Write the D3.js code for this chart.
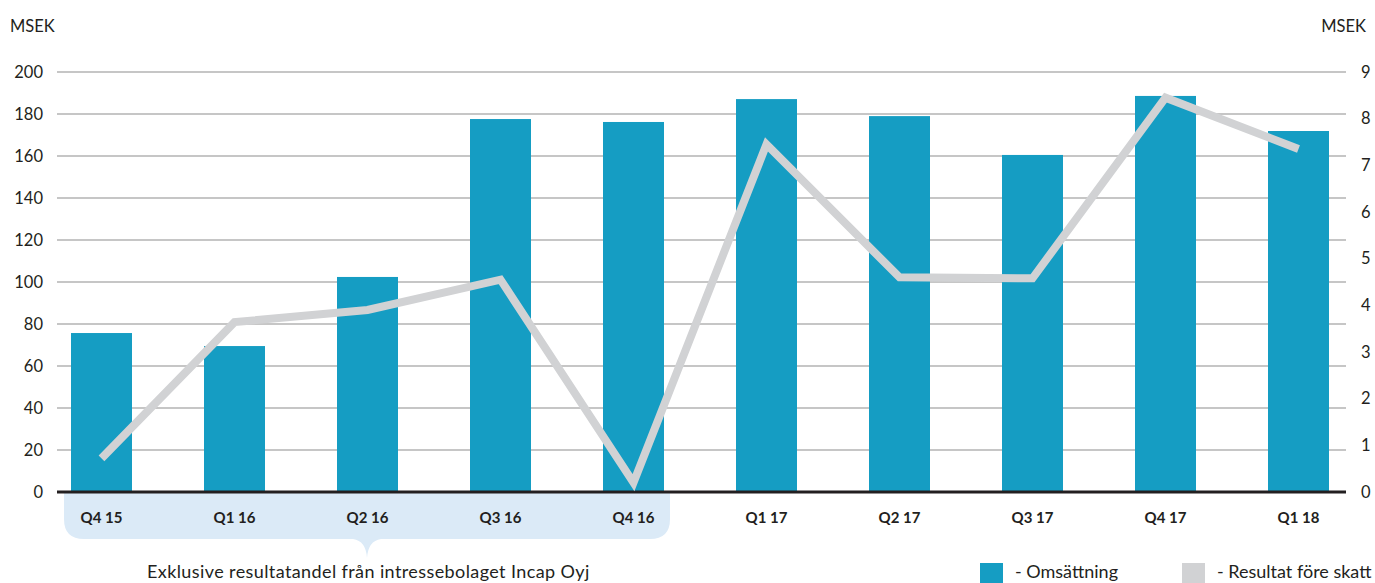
<!DOCTYPE html>
<html>
<head>
<meta charset="utf-8">
<script src="https://cdn.jsdelivr.net/npm/d3@7"></script>
<style>
  body { margin: 0; background: #fff; }
  svg { display: block; font-family: "Lato", "Noto Sans", sans-serif; }
</style>
</head>
<body>
<svg id="chart"></svg>
<script>
'use strict';

const quarters = ['Q4 15', 'Q1 16', 'Q2 16', 'Q3 16', 'Q4 16', 'Q1 17', 'Q2 17', 'Q3 17', 'Q4 17', 'Q1 18'];
const omsattning = [75.7, 69.5, 102.4, 177.6, 176.2, 187.1, 179, 160.5, 188.6, 171.9];
const resultat = [0.72, 3.64, 3.9, 4.55, 0.2, 7.45, 4.6, 4.58, 8.45, 7.35];
const leftTicks = [0, 20, 40, 60, 80, 100, 120, 140, 160, 180, 200];
const rightTicks = [0, 1, 2, 3, 4, 5, 6, 7, 8, 9];
const bracketQuarters = ['Q4 15', 'Q4 16'];  // bolag med resultatandel

const width = 1375;
const height = 583;
const gridLeft = 57, gridRight = 1346;
const yTop = 72, yBottom = 492;

const svg = d3.select('#chart')
  .attr('width', width)
  .attr('height', height);

const x = d3.scaleBand()
  .domain(quarters)
  .range([35, 1365])
  .paddingInner(1 - 61 / 133)
  .paddingOuter((1 - 61 / 133) / 2);

const yLeft = d3.scaleLinear().domain([0, 200]).range([yBottom, yTop]);
const yRight = d3.scaleLinear().domain([0, 9]).range([yBottom, yTop]);

const blue = '#159dc3';
const grey = '#d1d2d4';

// annotation bubble under the first quarters
const bx0 = x(bracketQuarters[0]) - 7;
const bx1 = x(bracketQuarters[1]) + x.bandwidth() + 6;
const btop = yBottom + 1, bbot = 539, r = 20;
const tipX = (bx0 + bx1) / 2;
const bubble = d3.path();
bubble.moveTo(bx0, btop);
bubble.lineTo(bx1, btop);
bubble.lineTo(bx1, bbot - r);
bubble.quadraticCurveTo(bx1, bbot, bx1 - r, bbot);
bubble.lineTo(tipX + 14, bbot);
bubble.quadraticCurveTo(tipX + 1, bbot + 2, tipX, bbot + 19);
bubble.quadraticCurveTo(tipX - 1, bbot + 2, tipX - 14, bbot);
bubble.lineTo(bx0 + r, bbot);
bubble.quadraticCurveTo(bx0, bbot, bx0, bbot - r);
bubble.closePath();
svg.append('path')
  .attr('d', bubble.toString())
  .attr('fill', '#dbeaf7');

// gridlines
svg.append('g')
  .selectAll('line')
  .data(leftTicks.filter(d => d > 0))
  .enter()
  .append('line')
  .attr('x1', gridLeft)
  .attr('x2', gridRight)
  .attr('y1', d => yLeft(d))
  .attr('y2', d => yLeft(d))
  .attr('stroke', '#b3b3b3')
  .attr('stroke-width', 1.5);

// left axis
const leftAxis = svg.append('g')
  .attr('transform', `translate(${gridLeft - 14},0)`)
  .call(d3.axisLeft(yLeft).tickValues(leftTicks).tickSize(0).tickPadding(0));
leftAxis.select('.domain').remove();
leftAxis.selectAll('text')
  .attr('font-size', 16.5)
  .attr('font-family', '"Lato", "Noto Sans", sans-serif')
  .attr('fill', '#231f20');

// right axis
const rightAxis = svg.append('g')
  .attr('transform', `translate(${gridRight + 15},0)`)
  .call(d3.axisRight(yRight).tickValues(rightTicks).tickSize(0).tickPadding(0));
rightAxis.select('.domain').remove();
rightAxis.selectAll('text')
  .attr('font-size', 16.5)
  .attr('font-family', '"Lato", "Noto Sans", sans-serif')
  .attr('fill', '#231f20');

svg.append('text')
  .attr('x', 10).attr('y', 32)
  .attr('font-size', 16.5).attr('fill', '#231f20')
  .text('MSEK');
svg.append('text')
  .attr('x', 1366).attr('y', 32)
  .attr('text-anchor', 'end')
  .attr('font-size', 16.5).attr('fill', '#231f20')
  .text('MSEK');

// bars
svg.append('g')
  .selectAll('rect')
  .data(omsattning)
  .enter()
  .append('rect')
  .attr('x', (d, i) => x(quarters[i]))
  .attr('y', d => yLeft(d))
  .attr('width', x.bandwidth())
  .attr('height', d => yBottom - yLeft(d))
  .attr('fill', blue);

// baseline
svg.append('line')
  .attr('x1', gridLeft).attr('x2', gridRight)
  .attr('y1', yBottom).attr('y2', yBottom)
  .attr('stroke', '#231f20')
  .attr('stroke-width', 3);

// line series
const line = d3.line()
  .x((d, i) => x(quarters[i]) + x.bandwidth() / 2)
  .y(d => yRight(d));
svg.append('path')
  .datum(resultat)
  .attr('d', line)
  .attr('fill', 'none')
  .attr('stroke', grey)
  .attr('stroke-width', 8)
  .attr('stroke-linejoin', 'miter')
  .attr('stroke-linecap', 'butt');

// category labels
svg.append('g')
  .selectAll('text')
  .data(quarters)
  .enter()
  .append('text')
  .attr('x', d => x(d) + x.bandwidth() / 2)
  .attr('y', 523)
  .attr('text-anchor', 'middle')
  .attr('font-size', 15)
  .attr('font-weight', 'bold')
  .attr('fill', '#231f20')
  .text(d => d);

svg.append('text')
  .attr('x', 147).attr('y', 578)
  .attr('font-size', 18)
  .attr('letter-spacing', 0.4)
  .attr('fill', '#231f20')
  .text('Exklusive resultatandel från intressebolaget Incap Oyj');

// legend
const legend = [
  { label: '- Omsättning', color: blue, x: 980 },
  { label: '- Resultat före skatt', color: grey, x: 1182 },
];
const lg = svg.append('g')
  .selectAll('g')
  .data(legend)
  .enter()
  .append('g')
  .attr('transform', d => `translate(${d.x},563)`);
lg.append('rect')
  .attr('width', 23).attr('height', 20)
  .attr('fill', d => d.color);
lg.append('text')
  .attr('x', 35).attr('y', 15)
  .attr('font-size', 18)
  .attr('fill', '#231f20')
  .text(d => d.label);
</script>
</body>
</html>
